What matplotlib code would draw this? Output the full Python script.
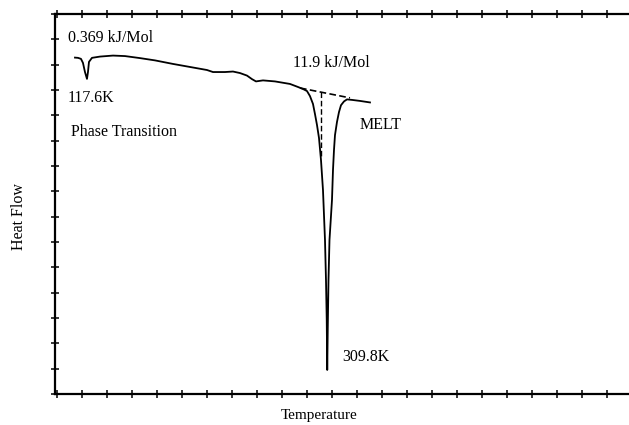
import numpy as np
import matplotlib.pyplot as plt

plt.rcParams['font.family'] = ['Liberation Serif', 'DejaVu Serif']

# DSC trace (temperature in K, heat flow in arbitrary units)
temp_K = [108.0, 110.4, 112.8, 114.4, 116.0, 117.6, 118.4, 119.2, 121.6, 128.0,
          138.4, 148.0, 160.0, 172.0, 186.4, 200.0, 213.6, 218.4, 228.0, 234.4,
          240.0, 245.6, 249.6, 252.8, 258.4, 268.0, 280.0, 286.4, 290.4, 293.6,
          296.0, 298.4, 300.0, 301.6, 303.2, 304.8, 306.4, 308.0, 308.8, 309.4,
          309.8, 310.2, 310.8, 311.6, 313.6, 314.4, 315.2, 316.0, 317.6, 319.2,
          320.8, 323.2, 325.6, 329.6, 336.0, 344.0]
heat_flow = [13.28, 13.27, 13.23, 13.07, 12.71, 12.44, 12.71, 13.11, 13.27, 13.32,
             13.36, 13.34, 13.26, 13.17, 13.03, 12.91, 12.79, 12.71, 12.71, 12.73,
             12.67, 12.57, 12.43, 12.34, 12.38, 12.34, 12.24, 12.12, 12.04, 11.96,
             11.76, 11.45, 11.05, 10.62, 10.11, 9.24, 8.05, 6.08, 4.50, 2.92,
             0.95, 2.53, 4.50, 6.08, 7.66, 8.84, 9.63, 10.22, 10.74, 11.13,
             11.40, 11.55, 11.63, 11.61, 11.57, 11.51]

# dashed baseline under the melting peak and the dashed drop line
base_T = [288.0, 328.0]
base_H = [12.08, 11.69]
drop_T = [304.8, 304.8]
drop_H = [11.92, 9.35]

x_ticks = np.arange(93.6, 551, 20)
y_ticks = np.arange(0, 16, 1)

fig = plt.figure(figsize=(6.29, 4.25), dpi=100)
ax = fig.add_axes([0.0874, 0.0729, 0.9126, 0.8941])

ax.plot(temp_K, heat_flow, color='k', lw=1.3)
ax.plot(base_T, base_H, color='k', lw=1.2, ls=(0, (4, 2)))
ax.plot(drop_T, drop_H, color='k', lw=1.0, ls=(0, (4, 2)))

ax.set_xlim(92, 551.2)
ax.set_ylim(0, 15)
ax.set_xticks(x_ticks)
ax.set_yticks(y_ticks)
ax.tick_params(which='both', direction='inout', length=6, width=1.1,
               top=True, bottom=True, left=True, right=False,
               labelbottom=False, labelleft=False)
for s in ['left', 'top', 'bottom']:
    ax.spines[s].set_linewidth(1.6)
ax.spines['right'].set_visible(False)

fs = 11.5
ax.text(102.4, 14.05, '0.369 kJ/Mol', fontsize=fs, va='center', ha='left')
ax.text(102.4, 11.69, '117.6K', fontsize=fs, va='center', ha='left')
ax.text(104.8, 10.34, 'Phase Transition', fontsize=fs, va='center', ha='left')
ax.text(282.4, 13.07, '11.9 kJ/Mol', fontsize=fs, va='center', ha='left')
ax.text(336.0, 10.62, 'MELT', fontsize=fs, va='center', ha='left')
ax.text(321.6, 1.46, '309.8K', fontsize=fs, va='center', ha='left')

fig.text(19 / 629, 1 - 217 / 425, 'Heat Flow', rotation=90, fontsize=fs,
         ha='center', va='center')
fig.text(319 / 629, 1 - 415 / 425, 'Temperature', fontsize=11,
         ha='center', va='center')

fig.savefig('out.png', dpi=100)
